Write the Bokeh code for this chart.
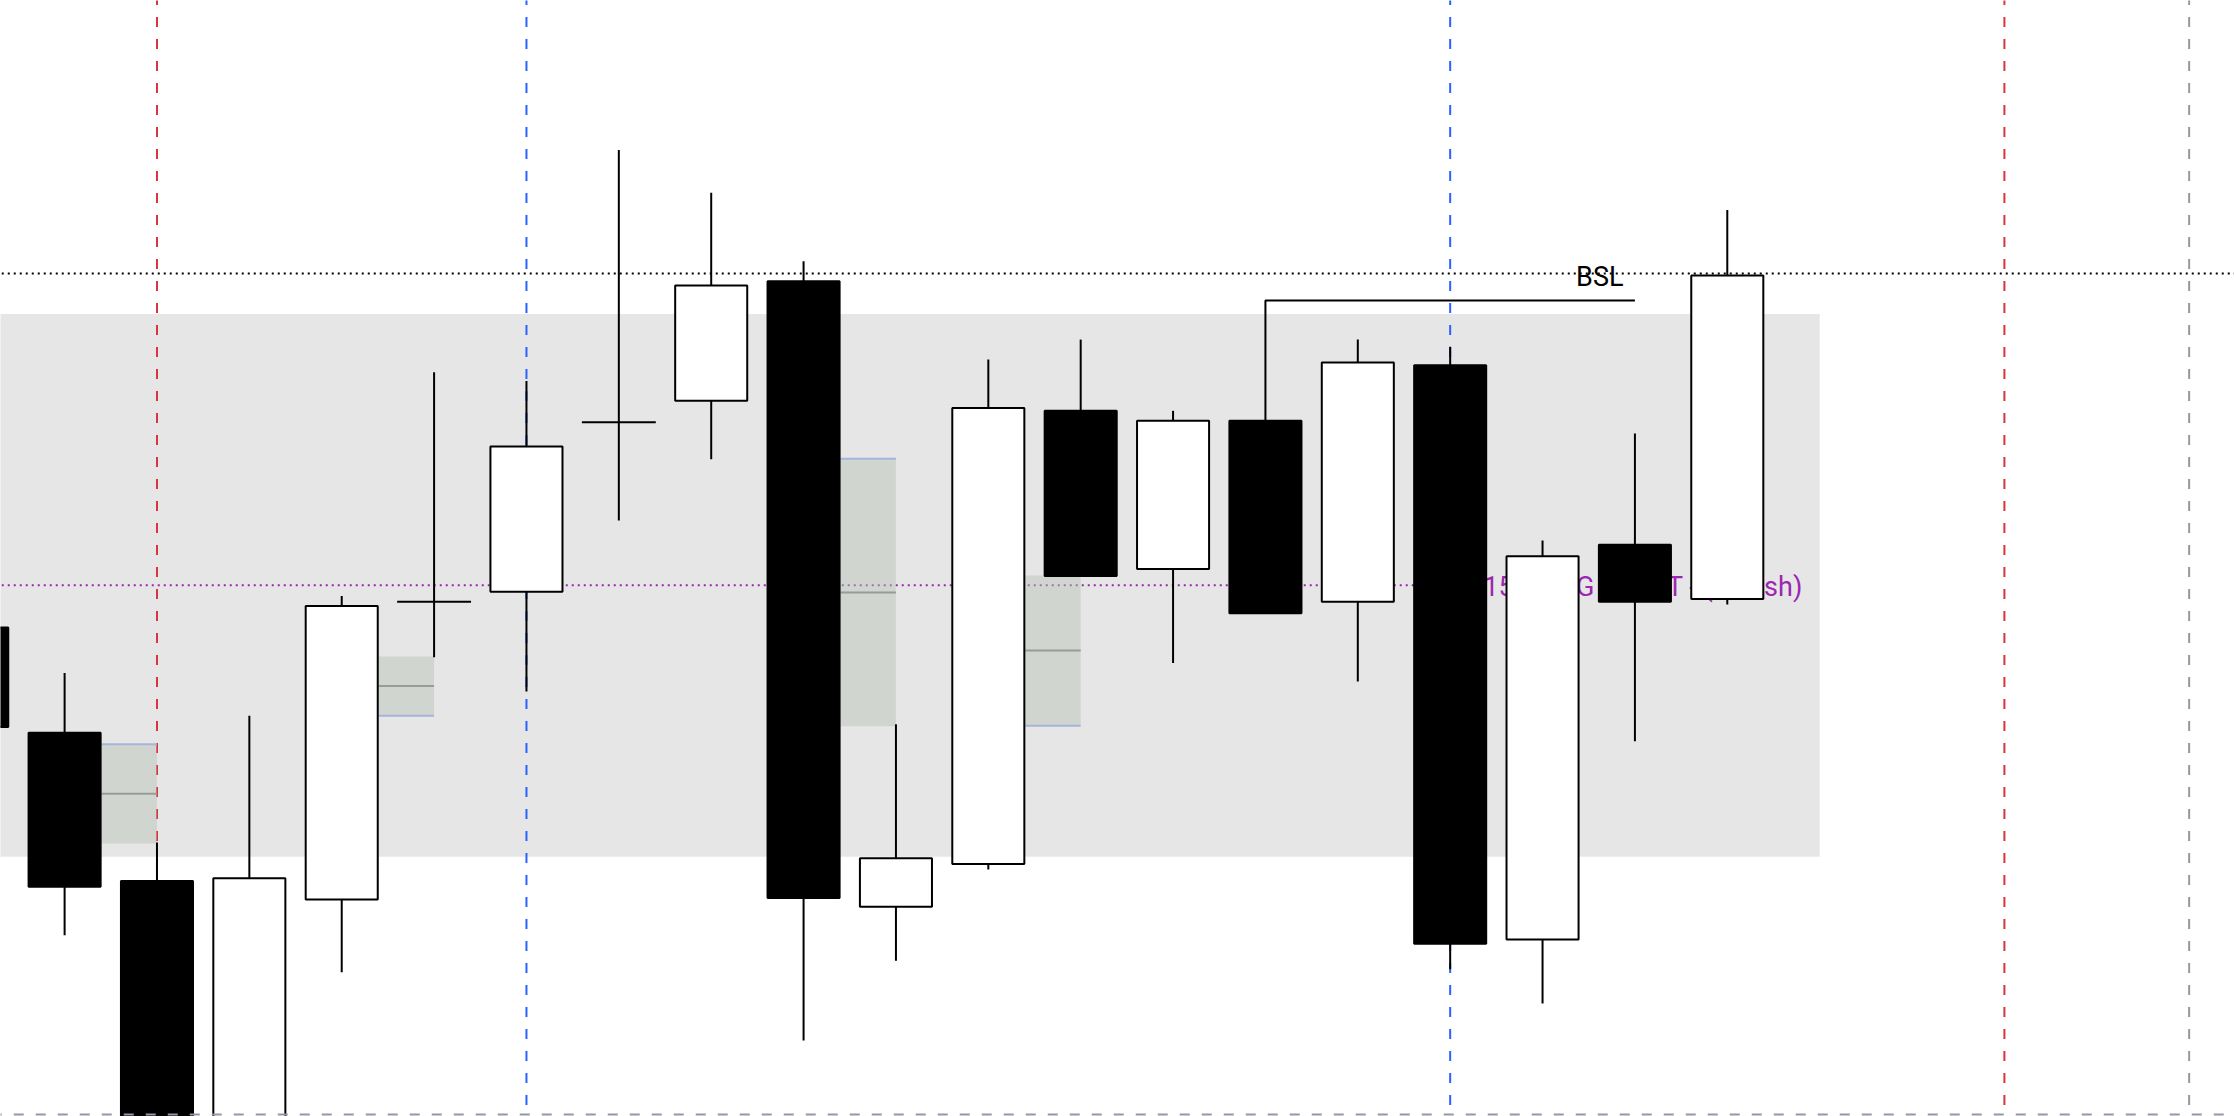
from bokeh.plotting import figure
from bokeh.models import Range1d
from bokeh.embed import file_html
from bokeh.resources import INLINE
from bokeh.core.properties import value

# ---------------- data ----------------
bar_index = list(range(20))
opens  = [4508.00, 4504.30, 4499.10, 4489.75, 4498.45, 4508.90, 4509.25, 4515.20, 4515.95, 4520.15,
          4498.20, 4499.70, 4515.60, 4510.05, 4515.25, 4508.90, 4517.20, 4497.05, 4510.90, 4509.00]
highs  = [4508.50, 4506.40, 4500.45, 4504.90, 4509.10, 4516.95, 4516.65, 4524.75, 4523.25, 4520.85,
          4504.60, 4517.40, 4518.10, 4515.60, 4515.25, 4518.10, 4517.85, 4511.05, 4514.80, 4522.65]
lows   = [4503.75, 4497.20, 4489.50, 4489.25, 4495.90, 4506.95, 4505.75, 4511.75, 4513.90, 4493.50,
          4496.30, 4499.50, 4509.80, 4506.75, 4508.50, 4506.10, 4496.00, 4494.80, 4504.00, 4508.80]
closes = [4504.50, 4498.90, 4490.00, 4499.20, 4508.75, 4508.90, 4514.35, 4515.20, 4520.00, 4498.50,
          4499.90, 4515.70, 4509.80, 4515.25, 4508.50, 4517.30, 4496.90, 4510.50, 4508.90, 4520.35]

# 15m FVG zone (grey band) and its midpoint
zone_left, zone_right = -1.0, 20.0
zone_top, zone_bottom = 4519.00, 4499.95
zone_mid = 4509.48
zone_label = "15m FVG CE HIT - (Bullish)"
zone_line_end = 16.30
zone_label_x = 16.36
zone_label_y = 4509.43

# small FVG boxes
fvg_left   = [1.40, 4.40, 9.40, 11.40]
fvg_right  = [2.00, 5.00, 10.00, 12.00]
fvg_top    = [4503.90, 4506.98, 4513.92, 4509.82]
fvg_bottom = [4500.42, 4504.90, 4504.53, 4504.55]
fvg_edge_is_top = [True, False, True, False]

# session / time separators
vline_x = [2, 6, 16, 22, 24]
vline_color = ["#d6363f", "#2962ff", "#2962ff", "#d6363f", "#9598a1"]

# liquidity levels
bsl_level = 4520.42
bsl_line_x = [14, 14, 18]
bsl_line_y = [4515.25, 4519.47, 4519.47]
bsl_text_x = 17.62
bsl_text_y = 4520.30
bottom_level = 4490.905

# ---------------- figure ----------------
x0, x1 = 0.306, 24.491
y0, y1 = 4490.835, 4530.0
p = figure(width=2234, height=1116, x_range=Range1d(x0, x1), y_range=Range1d(y0, y1),
           output_backend="svg", toolbar_location=None, min_border=0,
           x_axis_location=None, y_axis_location=None)
p.grid.visible = False
p.outline_line_color = None
p.background_fill_color = "white"
p.border_fill_color = "white"

# grey zone
p.quad(left=[zone_left], right=[zone_right], top=[zone_top], bottom=[zone_bottom],
       fill_color="#e6e6e6", line_color=None)

# vertical dashed separators
p.segment(x0=vline_x, x1=vline_x, y0=[y0 - 5] * len(vline_x), y1=[y1 + 5] * len(vline_x),
          line_color=vline_color, line_width=2, line_dash="10 12")

# BSL dotted level
p.segment(x0=[x0 - 2], x1=[x1 + 2], y0=[bsl_level], y1=[bsl_level],
          line_color="black", line_width=2, line_dash="2 4")

# zone midpoint line + label
p.segment(x0=[x0 - 2], x1=[zone_line_end], y0=[zone_mid], y1=[zone_mid],
          line_color="#9c27b0", line_width=2, line_dash="2 4")
p.text(x=[zone_label_x], y=[zone_label_y], text=[zone_label],
       text_font=value("Roboto"), text_font_size=value("27px"), text_color="#9c27b0",
       text_align="left", text_baseline="alphabetic")

# small FVG boxes
p.quad(left=fvg_left, right=fvg_right, top=fvg_top, bottom=fvg_bottom,
       fill_color="#b7c1b7", fill_alpha=0.46, line_color=None)
fvg_mid = [(t + b) / 2 for t, b in zip(fvg_top, fvg_bottom)]
p.segment(x0=fvg_left, x1=fvg_right, y0=fvg_mid, y1=fvg_mid, line_color="#979c97", line_width=2)
edge_y = [t if e else b for t, b, e in zip(fvg_top, fvg_bottom, fvg_edge_is_top)]
p.segment(x0=fvg_left, x1=fvg_right, y0=edge_y, y1=edge_y, line_color="#a6b4dc", line_width=2)

# BSL step line and label
p.line(x=bsl_line_x, y=bsl_line_y, line_color="black", line_width=2)
p.text(x=[bsl_text_x], y=[bsl_text_y], text=["BSL"],
       text_font=value("Roboto"), text_font_size=value("27px"), text_color="black",
       text_align="center", text_baseline="alphabetic")

# candles
p.segment(x0=bar_index, x1=bar_index, y0=lows, y1=highs, line_color="black", line_width=2)
body_w = 0.39
up = [c > o for o, c in zip(opens, closes)]
dn = [c < o for o, c in zip(opens, closes)]
dj = [c == o for o, c in zip(opens, closes)]
def sel(vals, mask):
    return [v for v, m in zip(vals, mask) if m]
for mask, fill in ((up, "white"), (dn, "black")):
    xs = sel(bar_index, mask)
    p.quad(left=[x - body_w for x in xs], right=[x + body_w for x in xs],
           top=[max(o, c) for o, c in zip(sel(opens, mask), sel(closes, mask))],
           bottom=[min(o, c) for o, c in zip(sel(opens, mask), sel(closes, mask))],
           fill_color=fill, line_color="black", line_width=2)
xs = sel(bar_index, dj)
ys = sel(closes, dj)
p.segment(x0=[x - body_w - 0.01 for x in xs], x1=[x + body_w + 0.01 for x in xs], y0=ys, y1=ys,
          line_color="black", line_width=2)

# bottom grey dashed level (on top)
p.segment(x0=[x0 - 2], x1=[x1 + 2], y0=[bottom_level], y1=[bottom_level],
          line_color="#9598a1", line_width=2, line_dash="10 12")

open("out.html", "w").write(file_html(p, INLINE))
